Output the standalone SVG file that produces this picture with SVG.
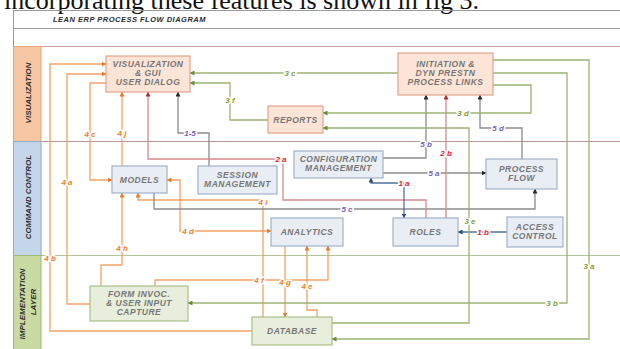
<svg xmlns="http://www.w3.org/2000/svg" width="620" height="349" viewBox="0 0 620 349">
<defs>
<style>
.nt{font-family:"Liberation Sans",Arial,sans-serif;font-weight:bold;font-style:italic;font-size:8.5px;letter-spacing:0.5px;fill:#767676;text-anchor:middle}
.lt{font-family:"Liberation Sans",Arial,sans-serif;font-weight:bold;font-style:italic;font-size:8px;fill:#2b2b2b;text-anchor:middle}
.vis{fill:#fce4d6;stroke:#e2a48a;stroke-width:1.2}
.cmd{fill:#e9eef5;stroke:#9fb2cb;stroke-width:1.2}
.imp{fill:#e7eedc;stroke:#a9bf88;stroke-width:1.2}
.c{fill:none;stroke-width:1.3}
.o{stroke:#f2a266}
.g{stroke:#9cb274}
.k{stroke:#8c8c8c}
.r{stroke:#d48b8b}
.b{stroke:#50709c}
.lb{font-family:"Liberation Sans",Arial,sans-serif;font-weight:bold;font-style:italic;font-size:8px;text-anchor:middle;stroke:#fff;stroke-width:3px;stroke-linejoin:round;paint-order:stroke}
.lo{fill:#ee7f2c}
.lg{fill:#86a040}
.lp{fill:#7a63b8}
.lr{fill:#e4222a}
</style>
<marker id="ao" viewBox="0 0 10 10" refX="9" refY="5" markerWidth="5" markerHeight="5" orient="auto-start-reverse" markerUnits="userSpaceOnUse"><path d="M0,0L10,5L0,10z" fill="#ea7a28"/></marker>
<marker id="ag" viewBox="0 0 10 10" refX="9" refY="5" markerWidth="5" markerHeight="5" orient="auto-start-reverse" markerUnits="userSpaceOnUse"><path d="M0,0L10,5L0,10z" fill="#6c8c38"/></marker>
<marker id="ak" viewBox="0 0 10 10" refX="9" refY="5" markerWidth="5" markerHeight="5" orient="auto-start-reverse" markerUnits="userSpaceOnUse"><path d="M0,0L10,5L0,10z" fill="#2a2a2a"/></marker>
<marker id="ar" viewBox="0 0 10 10" refX="9" refY="5" markerWidth="5" markerHeight="5" orient="auto-start-reverse" markerUnits="userSpaceOnUse"><path d="M0,0L10,5L0,10z" fill="#b03030"/></marker>
<marker id="ab" viewBox="0 0 10 10" refX="9" refY="5" markerWidth="5" markerHeight="5" orient="auto-start-reverse" markerUnits="userSpaceOnUse"><path d="M0,0L10,5L0,10z" fill="#2d4e80"/></marker>
</defs>
<rect width="620" height="349" fill="#fff"/>
<text x="4" y="8.5" font-family="Liberation Serif,'Times New Roman',serif" font-size="26" fill="#111">incorporating these features is shown in fig 3.</text>
<g id="frame" fill="none">
<path d="M13,10.5H620M13,28.5H620" stroke="#9a9a9a" stroke-width="1"/>
<path d="M13,46.5H620" stroke="#c9a0a0" stroke-width="1.2"/>
<path d="M13.5,10V349" stroke="#9a9a9a" stroke-width="1"/>
<path d="M41,141.5H620" stroke="#b99595" stroke-width="1"/>
<path d="M41,255.5H620" stroke="#b1c59a" stroke-width="1.2"/>
<text x="53" y="22" class="lt" style="text-anchor:start;font-size:7.5px;letter-spacing:0.5px">LEAN ERP PROCESS FLOW DIAGRAM</text>
</g>
<g id="lanes">
<rect x="13.5" y="46.5" width="27.5" height="95" fill="#f7c6a3" stroke="#eaa577"/>
<rect x="13.5" y="141.5" width="27.5" height="114" fill="#c5d5ea" stroke="#8eabd0"/>
<rect x="13.5" y="255.5" width="27.5" height="95" fill="#c9dba3" stroke="#9fb96f"/>
<text class="lt" transform="translate(30.5,93) rotate(-90)">VISUALIZATION</text>
<text class="lt" transform="translate(30.5,197) rotate(-90)">COMMAND CONTROL</text>
<text class="lt" transform="translate(24.5,304) rotate(-90)">IMPLEMENTATION</text>
<text class="lt" transform="translate(35.5,302) rotate(-90)">LAYER</text>
</g>
<g id="connectors">
<path class="c o" d="M252,331H50V64H106" marker-end="url(#ao)"/>
<path class="c o" d="M90,304H67V74H106" marker-end="url(#ao)"/>
<path class="c o" d="M106,83H90V180H112" marker-end="url(#ao)"/>
<path class="c o" d="M122,166V92" marker-end="url(#ao)"/>
<path class="c o" d="M101,286V265H122V193" marker-end="url(#ao)"/>
<path class="c o" d="M271,231H180V180H167" marker-start="url(#ao)" marker-end="url(#ao)"/>
<path class="c o" d="M263,317V200H138V193" marker-end="url(#ao)"/>
<path class="c o" d="M155,286V280H328V246" marker-end="url(#ao)"/>
<path class="c o" d="M285,246V317" marker-end="url(#ao)"/>
<path class="c o" d="M317,317V310H307V246" marker-end="url(#ao)"/>
<path class="c k" d="M209,166V133H178V92" marker-end="url(#ak)"/>
<path class="c k" d="M154,193V209H535V189" marker-end="url(#ak)"/>
<path class="c k" d="M383,158H426V95" marker-end="url(#ak)"/>
<path class="c k" d="M383,173H486" marker-end="url(#ak)"/>
<path class="c k" d="M522,159V128H480V95" marker-end="url(#ak)"/>
<path class="c r" d="M426,218V200H283V159H148V92" marker-end="url(#ar)"/>
<path class="c r" d="M446,218V95" marker-end="url(#ar)"/>
<path class="c b" d="M371,178V183H404V218" marker-start="url(#ab)" marker-end="url(#ab)"/>
<path class="c b" d="M507,232H458" marker-end="url(#ab)"/>
<path class="c g" d="M398,73H190" marker-end="url(#ag)"/>
<path class="c g" d="M268,120H230V83H190" marker-end="url(#ag)"/>
<path class="c g" d="M493,85H531V113H323" marker-end="url(#ag)"/>
<path class="c g" d="M332,323H469V128H323" marker-end="url(#ag)"/>
<path class="c g" d="M493,73H567V303H188" marker-end="url(#ag)"/>
<path class="c g" d="M493,60H589V339H332" marker-end="url(#ag)"/>
<text class="lb lo" x="50" y="261">4 b</text>
<text class="lb lo" x="67" y="185">4 a</text>
<text class="lb lo" x="90" y="137">4 c</text>
<text class="lb lo" x="122" y="136">4 j</text>
<text class="lb lo" x="122" y="251">4 h</text>
<text class="lb lo" x="188" y="234">4 d</text>
<text class="lb lo" x="263" y="205">4 i</text>
<text class="lb lo" x="259" y="283">4 f</text>
<text class="lb lo" x="285" y="285">4 g</text>
<text class="lb lo" x="307" y="289">4 e</text>
<text class="lb lp" x="190" y="136">1-5</text>
<text class="lb lp" x="347" y="212">5 c</text>
<text class="lb lp" x="426" y="147">5 b</text>
<text class="lb lp" x="434" y="176">5 a</text>
<text class="lb lp" x="498" y="131">5 d</text>
<text class="lb lr" x="281" y="162">2 a</text>
<text class="lb lr" x="446" y="156">2 b</text>
<text class="lb lr" x="404" y="186">1 a</text>
<text class="lb lr" x="483" y="235">1 b</text>
<text class="lb lg" x="290" y="76">3 c</text>
<text class="lb lg" x="230" y="103">3 f</text>
<text class="lb lg" x="463" y="116">3 d</text>
<text class="lb lg" x="470" y="224">3 e</text>
<text class="lb lg" x="552" y="306">3 b</text>
<text class="lb lg" x="589" y="269">3 a</text>
</g>
<g id="vis-gui"><rect class="vis" x="106" y="56" width="84" height="36"/><text class="nt" x="148" y="67">VISUALIZATION</text><text class="nt" x="148" y="76">&amp; GUI</text><text class="nt" x="148" y="85">USER DIALOG</text></g>
<g id="initiation"><rect class="vis" x="398" y="53" width="95" height="42"/><text class="nt" x="445.5" y="67">INITIATION &amp;</text><text class="nt" x="445.5" y="76">DYN PRESTN</text><text class="nt" x="445.5" y="85">PROCESS LINKS</text></g>
<g id="reports"><rect class="vis" x="268" y="106" width="55" height="27"/><text class="nt" x="295.5" y="122.5">REPORTS</text></g>
<g id="models"><rect class="cmd" x="112" y="166" width="55" height="27"/><text class="nt" x="139.5" y="183">MODELS</text></g>
<g id="session"><rect class="cmd" x="198" y="166" width="79" height="28"/><text class="nt" x="237.5" y="178">SESSION</text><text class="nt" x="237.5" y="187">MANAGEMENT</text></g>
<g id="config"><rect class="cmd" x="294" y="151" width="89" height="27"/><text class="nt" x="338.5" y="162">CONFIGURATION</text><text class="nt" x="338.5" y="171">MANAGEMENT</text></g>
<g id="process-flow"><rect class="cmd" x="486" y="159" width="71" height="30"/><text class="nt" x="521.5" y="172">PROCESS</text><text class="nt" x="521.5" y="181">FLOW</text></g>
<g id="analytics"><rect class="cmd" x="271" y="218" width="72" height="28"/><text class="nt" x="307" y="235">ANALYTICS</text></g>
<g id="roles"><rect class="cmd" x="393" y="218" width="65" height="28"/><text class="nt" x="425.5" y="235">ROLES</text></g>
<g id="access"><rect class="cmd" x="507" y="217" width="56" height="30"/><text class="nt" x="535" y="230">ACCESS</text><text class="nt" x="535" y="239">CONTROL</text></g>
<g id="form"><rect class="imp" x="90" y="286" width="98" height="35"/><text class="nt" x="139" y="297">FORM INVOC.</text><text class="nt" x="139" y="306">&amp; USER INPUT</text><text class="nt" x="139" y="315">CAPTURE</text></g>
<g id="database"><rect class="imp" x="252" y="317" width="80" height="28"/><text class="nt" x="292" y="334">DATABASE</text></g>
</svg>
